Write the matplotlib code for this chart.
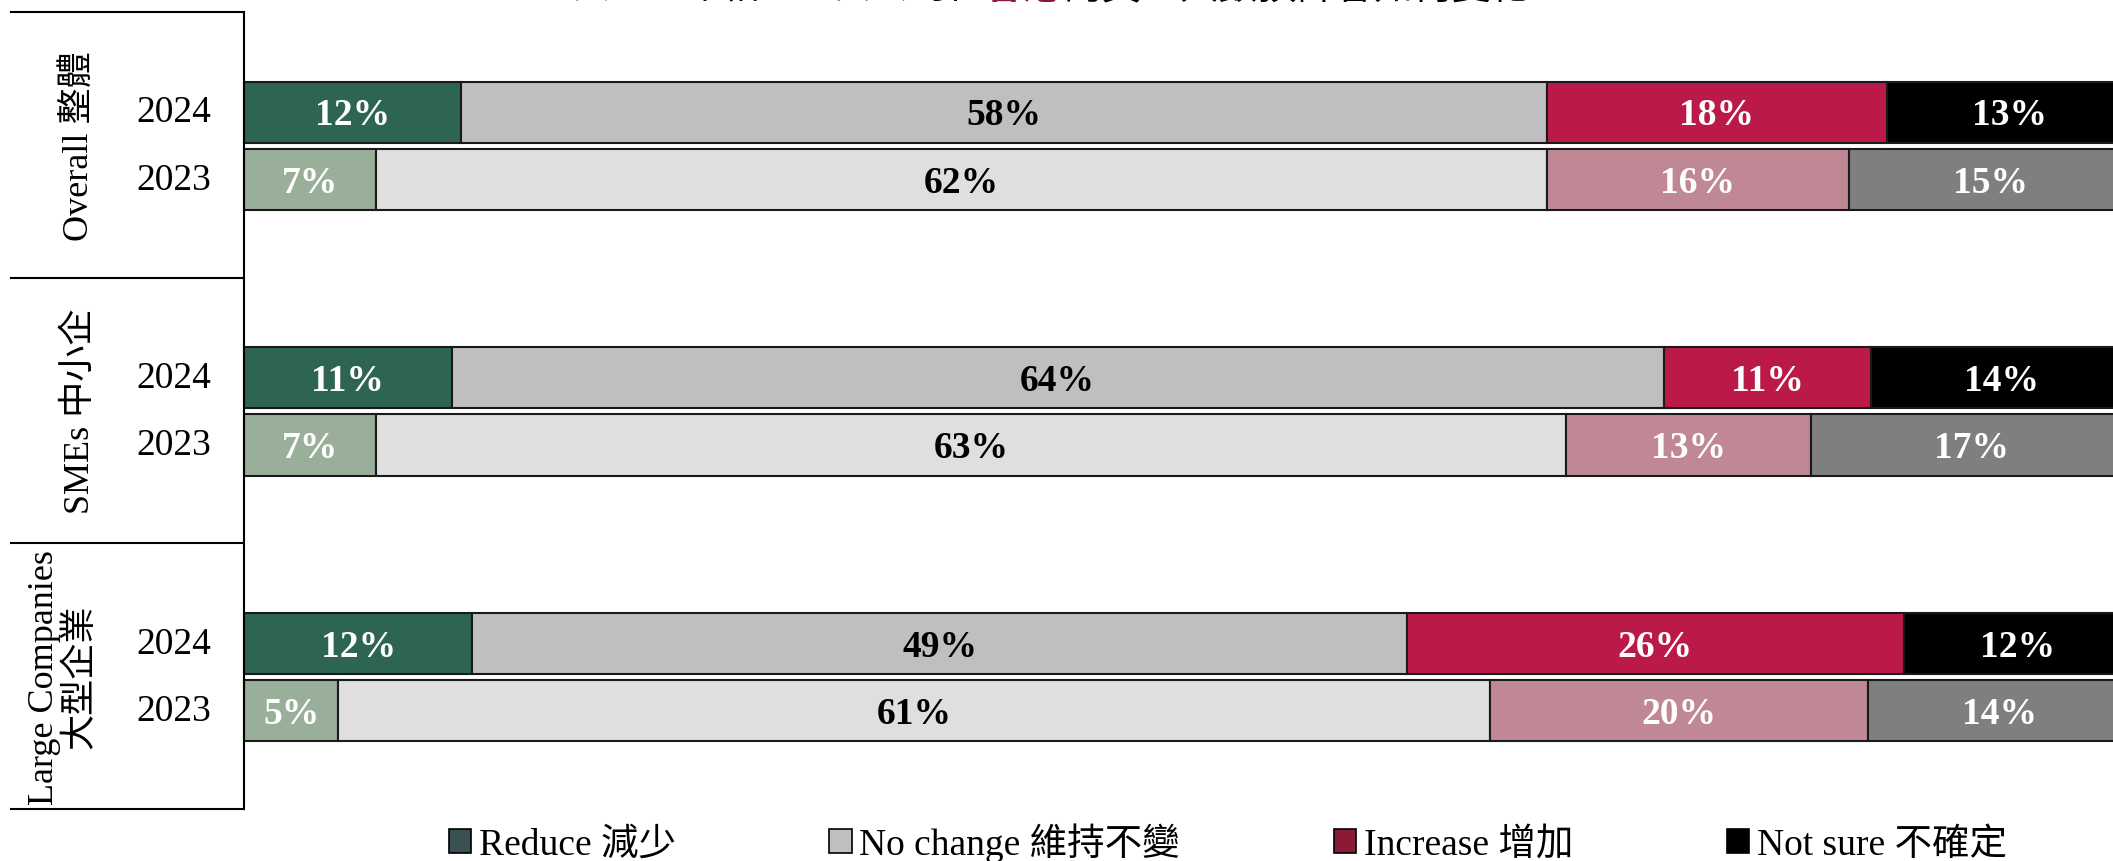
#!/usr/bin/env python3

""" Hiring outlook 2024 vs 2023: 100% stacked horizontal bars by company size """

import matplotlib
matplotlib.use("Agg")
import matplotlib.pyplot as plt
from matplotlib.patches import Patch

plt.rcParams['font.family'] = ['Liberation Serif', 'Noto Sans CJK TC', 'DejaVu Sans']

groups = ["Overall 整體", "SMEs 中小企", "Large Companies\n大型企業"]
years = ["2024", "2023"]
categories = ["Reduce 減少", "No change 維持不變", "Increase 增加", "Not sure 不確定"]

# shares (%) per group, per year, in category order
values_2024 = [[11.5, 57.5, 18.0, 13.0],
               [11.0, 64.2, 11.0, 13.8],
               [12.1, 49.5, 26.3, 12.1]]
values_2023 = [[7, 62, 16, 15],
               [7, 63, 13, 17],
               [5, 61, 20, 14]]
# printed labels
labels_2024 = [[12, 58, 18, 13],
               [11, 64, 11, 14],
               [12, 49, 26, 12]]
labels_2023 = [[7, 62, 16, 15],
               [7, 63, 13, 17],
               [5, 61, 20, 14]]

colors_2024 = ["#2E6452", "#BFBFBF", "#BB1A48", "#000000"]
colors_2023 = ["#9AAF9A", "#DFDFDF", "#C08895", "#7F7F7F"]
text_colors = ["white", "black", "white", "white"]
legend_colors = ["#3A5055", "#C0C0C0", "#8B1A35", "#000000"]

W, H = 2113, 862
LEFT = 244
PLOT_W = 1888  # the value axis runs a little past the right edge of the picture
fig = plt.figure(figsize=(W / 100, H / 100), dpi=100)
ax = fig.add_axes([LEFT / W, (H - 810) / H, PLOT_W / W, (810 - 13) / H])
ax.set_xlim(0, 100)
ax.set_ylim(3, 0)

bar_h = 0.23
offsets = [0.377, 0.63]


def draw_row(y, vals, labels, cols):
    left = 0
    for v, lab, c, tc in zip(vals, labels, cols, text_colors):
        ax.barh(y, v, left=left, height=bar_h, color=c,
                edgecolor="#1a1a1a", linewidth=1.5, clip_on=False)
        ax.text(left + v / 2, y + 0.01, f"{lab}%", ha="center", va="center",
                fontsize=27, fontweight="bold", color=tc,
                family=["Liberation Serif", "DejaVu Serif"])
        left += v


for i in range(len(groups)):
    draw_row(i + offsets[0], values_2024[i], labels_2024[i], colors_2024)
    draw_row(i + offsets[1], values_2023[i], labels_2023[i], colors_2023)

    for off, yr in zip(offsets, years):
        ax.text(-70 / PLOT_W, i + off, yr, transform=ax.get_yaxis_transform(),
                ha="center", va="center", fontsize=27)

    xg = -181 / PLOT_W if "\n" in groups[i] else -164 / PLOT_W
    ax.text(xg, i + 0.5, groups[i], transform=ax.get_yaxis_transform(),
            ha="center", va="center", rotation=90, fontsize=26,
            linespacing=1.12, multialignment="center")

# table-like lines on the left
tr = ax.get_yaxis_transform()
for yb in range(len(groups) + 1):
    ax.plot([-233 / PLOT_W, 0], [yb, yb], transform=tr, color="black",
            linewidth=1.5, clip_on=False)

for side in ["top", "right", "bottom"]:
    ax.spines[side].set_visible(False)
ax.spines["left"].set_linewidth(1.5)
ax.set_xticks([])
ax.set_yticks([])

# legend
handles = [Patch(facecolor=c, edgecolor="black", linewidth=1.2) for c in legend_colors]
fig.legend(handles, categories, loc="center", bbox_to_anchor=(0.581, 0.022),
           ncol=4, frameon=False, fontsize=27, handlelength=0.6,
           handleheight=0.6, handletextpad=0.2, columnspacing=4.1)

# title (mostly cut off at the top of the picture)
ty = 1 - 7 / H
fig.text(985 / W, ty, "與2023年相比，貴公司在", ha="right", va="bottom", fontsize=27)
fig.text(1022 / W, ty, "香港", ha="center", va="bottom", fontsize=27,
         color="#8B1A35", fontweight="bold")
fig.text(1064 / W, ty, "的員工人數預計會如何變化？", ha="left", va="bottom", fontsize=28)

fig.savefig("out.png", dpi=100)
